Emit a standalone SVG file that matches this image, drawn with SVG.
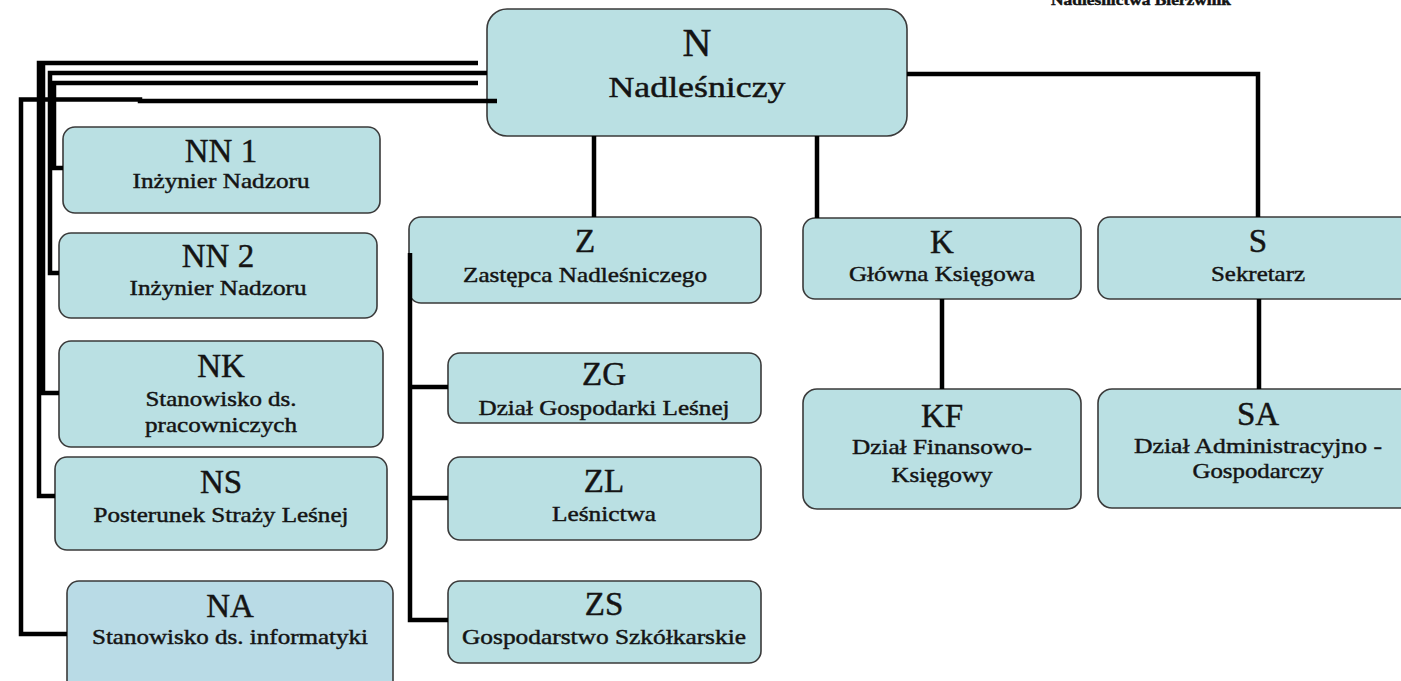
<svg xmlns="http://www.w3.org/2000/svg" width="1401" height="681" viewBox="0 0 1401 681">
<style>
.box{fill:#bae0e3;stroke:#3a3a3a;stroke-width:1.6}
.box2{fill:#b9dbe6;stroke:#3a3a3a;stroke-width:1.6}
text{font-family:'Liberation Serif','DejaVu Serif',serif;fill:#141414;stroke:#141414;stroke-width:0.45;text-anchor:middle}
.h{font-size:33px}
.s{font-size:22px}
.c{fill:none;stroke:#000;stroke-width:4.5;stroke-linejoin:miter}
</style>
<rect width="1401" height="681" fill="#ffffff"/>
<g font-family="Liberation Serif, DejaVu Serif, serif">
<text x="1141" y="5" font-size="14" font-weight="bold" fill="#1a1a40" textLength="180" lengthAdjust="spacingAndGlyphs">Nadleśnictwa Bierzwnik</text>

<g id="node-N">
<rect class="box" x="487" y="9" width="420" height="127" rx="20"/>
<text x="697" y="56" font-size="40">N</text>
<text x="697" y="97" font-size="29" textLength="177" lengthAdjust="spacingAndGlyphs">Nadleśniczy</text>
</g>
<g id="node-NN1">
<rect class="box" x="63" y="127" width="317" height="86" rx="12"/>
<text class="h" x="221" y="162">NN 1</text>
<text class="s" x="221" y="188" textLength="177" lengthAdjust="spacingAndGlyphs">Inżynier Nadzoru</text>
</g>
<g id="node-NN2">
<rect class="box" x="59" y="233" width="318" height="85" rx="12"/>
<text class="h" x="218" y="267">NN 2</text>
<text class="s" x="218" y="295" textLength="177" lengthAdjust="spacingAndGlyphs">Inżynier Nadzoru</text>
</g>
<g id="node-NK">
<rect class="box" x="59" y="341" width="324" height="106" rx="12"/>
<text class="h" x="221" y="377">NK</text>
<text class="s" x="221" y="406" textLength="151" lengthAdjust="spacingAndGlyphs">Stanowisko ds.</text>
<text class="s" x="221" y="432" textLength="152" lengthAdjust="spacingAndGlyphs">pracowniczych</text>
</g>
<g id="node-NS">
<rect class="box" x="55" y="457" width="332" height="93" rx="12"/>
<text class="h" x="221" y="493">NS</text>
<text class="s" x="221" y="522" textLength="255" lengthAdjust="spacingAndGlyphs">Posterunek Straży Leśnej</text>
</g>
<g id="node-NA">
<rect class="box2" x="67" y="581" width="326" height="125" rx="12"/>
<text class="h" x="230" y="617">NA</text>
<text class="s" x="230" y="644" textLength="276" lengthAdjust="spacingAndGlyphs">Stanowisko ds. informatyki</text>
</g>
<g id="node-Z">
<rect class="box" x="409" y="217" width="352" height="86" rx="12"/>
<text class="h" x="585" y="252">Z</text>
<text class="s" x="585" y="282" textLength="244" lengthAdjust="spacingAndGlyphs">Zastępca Nadleśniczego</text>
</g>
<g id="node-ZG">
<rect class="box" x="448" y="353" width="313" height="70" rx="12"/>
<text class="h" x="604" y="385">ZG</text>
<text class="s" x="604" y="415" textLength="251" lengthAdjust="spacingAndGlyphs">Dział Gospodarki Leśnej</text>
</g>
<g id="node-ZL">
<rect class="box" x="448" y="457" width="313" height="83" rx="12"/>
<text class="h" x="604" y="492">ZL</text>
<text class="s" x="604" y="521" textLength="104" lengthAdjust="spacingAndGlyphs">Leśnictwa</text>
</g>
<g id="node-ZS">
<rect class="box" x="448" y="581" width="313" height="82" rx="12"/>
<text class="h" x="604" y="615">ZS</text>
<text class="s" x="604" y="644" textLength="284" lengthAdjust="spacingAndGlyphs">Gospodarstwo Szkółkarskie</text>
</g>
<g id="node-K">
<rect class="box" x="803" y="218" width="278" height="81" rx="12"/>
<text class="h" x="942" y="253">K</text>
<text class="s" x="942" y="281" textLength="186" lengthAdjust="spacingAndGlyphs">Główna Księgowa</text>
</g>
<g id="node-S">
<rect class="box" x="1098" y="217" width="320" height="82" rx="12"/>
<text class="h" x="1258" y="252">S</text>
<text class="s" x="1258" y="281" textLength="94" lengthAdjust="spacingAndGlyphs">Sekretarz</text>
</g>
<g id="node-KF">
<rect class="box" x="803" y="389" width="278" height="120" rx="14"/>
<text class="h" x="942" y="427">KF</text>
<text class="s" x="942" y="454" textLength="180" lengthAdjust="spacingAndGlyphs">Dział Finansowo-</text>
<text class="s" x="942" y="482" textLength="101" lengthAdjust="spacingAndGlyphs">Księgowy</text>
</g>
<g id="node-SA">
<rect class="box" x="1098" y="389" width="320" height="119" rx="14"/>
<text class="h" x="1258" y="425">SA</text>
<text class="s" x="1258" y="453" textLength="248" lengthAdjust="spacingAndGlyphs">Dział Administracyjno -</text>
<text class="s" x="1258" y="478" textLength="131" lengthAdjust="spacingAndGlyphs">Gospodarczy</text>
</g>
</g>

<g id="connectors">
<path class="c" d="M478,63 H39 V496 H55"/>
<path class="c" d="M43,63 V393 H59"/>
<path class="c" d="M487,73 H50 V273 H59"/>
<path class="c" d="M478,83 H54 V168 H63"/>
<path class="c" d="M497,101 H140 V99.5 H21 V634 H67" stroke-width="5"/>
<path class="c" d="M594,136 V217" stroke-width="5"/>
<path class="c" d="M817,136 V218"/>
<path class="c" d="M907,74 H1258 V217" stroke-width="5"/>
<path class="c" d="M942,299 V389"/>
<path class="c" d="M1259,299 V389" stroke-width="6"/>
<path class="c" d="M410,253 V620 H448"/>
<path class="c" d="M410,387 H448" stroke-width="6"/>
<path class="c" d="M410,498 H448"/>
</g>
</svg>
